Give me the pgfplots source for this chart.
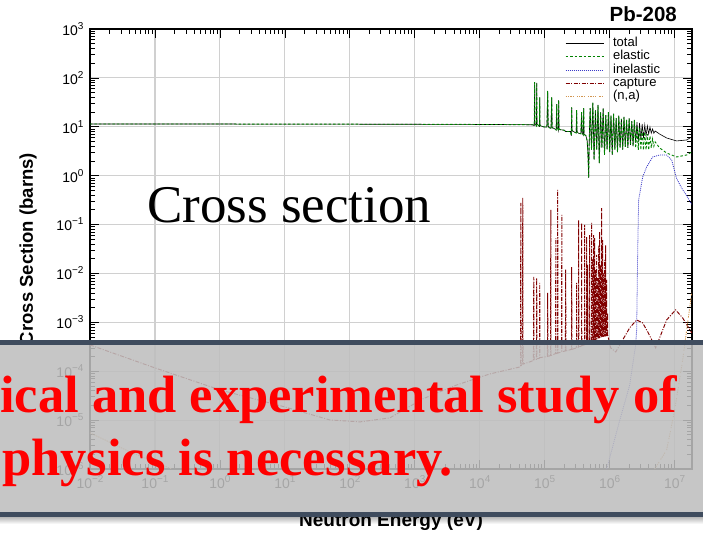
\documentclass[border=0pt]{standalone}
\usepackage{fontspec}
\setmainfont{Liberation Serif}
\setsansfont{Liberation Sans}
\newfontfamily\arialfont{Liberation Sans}
\usepackage{pgfplots}
\pgfplotsset{compat=1.18}
\usepackage{pgfplotstable}

\definecolor{elasticgreen}{RGB}{0,130,0}
\definecolor{inelblue}{RGB}{60,60,200}
\definecolor{capred}{RGB}{128,0,0}
\definecolor{natan}{RGB}{210,150,80}
\definecolor{bannergrey}{RGB}{190,190,190}
\definecolor{bannerdark}{RGB}{63,76,94}
\definecolor{gridgrey}{RGB}{208,208,208}

% power-of-ten tick label set in the text font
\newcommand\dec[1]{10\raisebox{6pt}{\fontsize{10}{10}\selectfont #1}}
\newcommand\logtick{\pgfmathtruncatemacro\tickexp{round(\tick/2.302585093)}%
  \dec{\ifnum\tickexp<0 −\number-\tickexp\else\tickexp\fi}}

% Pb-208: energy (eV), total and elastic cross sections (b)
\pgfplotstableread{
E        tot    ela
0.01     11.4   11.4
0.1      11.4   11.4
1        11.38  11.38
10       11.35  11.35
100      11.3   11.3
1000     11.25  11.25
1e4      11.15  11.15
3e4      11.1   11.1
6.5e4    11.0   11.0
6.9e4    10.6   10.6
7.0e4    82     82
7.06e4   11.8   11.8
7.3e4    10.9   10.9
7.45e4   10.5   10.5
7.53e4   79     79
7.6e4    11.5   11.5
8.0e4    10.6   10.6
8.3e4    10.2   10.2
8.38e4   40     40
8.45e4   10.6   10.6
9.5e4    10.0   10.0
1.08e5   9.8    9.8
1.11e5   54     54
1.13e5   10.5   10.5
1.17e5   9.6    9.6
1.25e5   9.3    9.3
1.28e5   40     40
1.30e5   9.6    9.6
1.40e5   9.2    9.2
1.50e5   8.6    8.6
1.53e5   29     29
1.55e5   9.3    9.3
1.60e5   9.0    9.0
1.62e5   8.4    8.4
1.64e5   35     35
1.66e5   9.0    9.0
1.75e5   8.7    8.7
2.00e5   8.5    8.5
2.10e5   8.0    8.0
2.50e5   8.0    8.0
2.57e5   6.5    6.5
2.60e5   25     25
2.63e5   8.4    8.4
2.75e5   8.0    8.0
3.05e5   7.5    7.5
3.10e5   22     22
3.14e5   7.9    7.9
3.30e5   7.4    7.4
3.60e5   7.2    7.2
3.70e5   20     20
3.75e5   7.6    7.6
3.90e5   6.9    6.9
3.98e5   24     24
4.03e5   7.0    7.0
4.30e5   6.6    6.6
4.50e5   5.2    5.2
4.62e5   3.0    3.0
4.75e5   0.9    0.9
4.82e5   3.5    3.5
4.90e5   10     10
5.01e5   24     24
5.25e5   3.4    3.4
5.50e5   31     31
5.75e5   2.1    2.1
6.03e5   22     22
6.31e5   3.4    3.4
6.61e5   28     28
6.92e5   1.8    1.8
7.24e5   20     20
7.59e5   3.7    3.7
7.94e5   24     24
8.32e5   2.65   2.65
8.71e5   17.4   17.4
9.12e5   3.4    3.4
9.55e5   20     20
1.0e6    3.05   3.05
1.047e6  17     17
1.096e6  2.65   2.65
1.148e6  18.5   18.5
1.202e6  3.4    3.4
1.259e6  15     15
1.318e6  3.05   3.05
1.38e6   17     17
1.445e6  3.7    3.7
1.514e6  14.5   14.5
1.585e6  3.4    3.4
1.66e6   16     16
1.738e6  3.9    3.9
1.82e6   13.8   13.8
1.905e6  3.7    3.7
1.995e6  15     15
2.089e6  4.25   4.25
2.188e6  13     13
2.291e6  4.0    4.0
2.399e6  13.8   13.8
2.512e6  4.67   3.69
2.63e6   12.5   10.4
2.754e6  4.9    3.36
2.884e6  12     9.45
3.02e6   5.4    3.36
3.162e6  11.4   8.6
3.311e6  5.9    3.36
3.467e6  10.9   7.8
3.631e6  6.5    3.36
3.802e6  10.4   7.1
3.981e6  7.1    3.36
4.169e6  9.9    6.5
4.365e6  7.4    3.69
4.571e6  9.0    5.6
4.786e6  7.4    4.0
5.012e6  8.2    4.9
5.87e6   7.1    3.69
7.53e6   5.9    2.91
1.07e7   5.13   2.41
1.53e7   5.37   2.65
1.83e7   6.2    3.05
}\xsTotEl

% inelastic (b)
\pgfplotstableread{
E        s
9.0e5    1.0e-6
1.43e6   1.0e-5
2.03e6   5.2e-5
2.51e6   3.45e-4
2.6e6    7.0e-4
2.7e6    0.030
2.79e6   0.318
3.22e6   0.94
3.71e6   1.51
4.59e6   2.41
5.87e6   2.65
7.53e6   2.65
9.0e6    2.09
1.07e7   0.88
1.28e7   0.56
1.53e7   0.39
1.83e7   0.26
}\xsInel

% radiative capture (b)
\pgfplotstableread{
E        s
0.01     3.45e-4
0.1      1.17e-4
1        4.15e-5
10       1.86e-5
49       1.01e-5
143      9.2e-6
412      1.11e-5
1328     2.72e-5
4430     5.25e-5
1.43e4   8.8e-5
4.12e4   1.22e-4
4.25e4   1.25e-4
4.28e4   0.277
4.33e4   1.3e-4
4.55e4   1.35e-4
4.59e4   0.35
4.64e4   1.4e-4
6.7e4    1.65e-4
6.78e4   8.5e-3
6.85e4   1.7e-4
7.45e4   1.75e-4
7.53e4   8.1e-3
7.6e4    1.8e-4
8.3e4    1.85e-4
8.38e4   6.4e-3
8.45e4   1.9e-4
1.10e5   2.0e-4
1.11e5   4.0e-3
1.12e5   2.0e-4
1.23e5   2.1e-4
1.24e5   0.199
1.25e5   2.1e-4
1.47e5   2.3e-4
1.48e5   0.053
1.49e5   2.3e-4
1.58e5   2.35e-4
1.585e5  0.51
1.595e5  2.35e-4
1.82e5   2.5e-4
1.83e5   0.157
1.84e5   2.5e-4
2.08e5   2.6e-4
2.10e5   0.012
2.12e5   2.6e-4
2.58e5   2.8e-4
2.60e5   0.0136
2.62e5   2.8e-4
3.08e5   3.0e-4
3.10e5   6.4e-3
3.12e5   3.0e-4
3.31e5   3.1e-4
3.33e5   0.124
3.35e5   3.1e-4
3.68e5   3.3e-4
3.70e5   0.108
3.72e5   3.3e-4
4.10e5   3.5e-4
4.12e5   0.098
4.14e5   3.5e-4
4.41e5   3.7e-4
4.43e5   0.056
4.45e5   3.7e-4
4.57e5   3.8e-4
4.59e5   0.0149
4.61e5   3.8e-4
4.90e5   4.0e-4
4.92e5   0.061
4.94e5   4.0e-4
5.26e5   4.1e-4
5.28e5   0.108
5.30e5   4.1e-4
5.50e5   4.2e-4
5.52e5   0.02
5.54e5   4.2e-4
5.65e5   4.3e-4
5.67e5   0.061
5.69e5   4.3e-4
5.85e5   4.4e-4
5.87e5   0.053
5.89e5   4.4e-4
6.10e5   4.5e-4
6.12e5   0.012
6.14e5   4.5e-4
6.29e5   4.6e-4
6.31e5   0.0239
6.33e5   4.6e-4
6.55e5   4.7e-4
6.57e5   0.008
6.59e5   4.7e-4
6.76e5   4.8e-4
6.78e5   0.038
6.80e5   4.8e-4
7.00e5   4.9e-4
7.02e5   0.071
7.04e5   4.9e-4
7.25e5   5.0e-4
7.27e5   0.015
7.29e5   5.0e-4
7.51e5   5.1e-4
7.53e5   0.218
7.55e5   5.1e-4
7.78e5   5.2e-4
7.80e5   0.048
7.82e5   5.2e-4
8.10e5   5.2e-4
8.12e5   0.01
8.14e5   5.2e-4
8.36e5   5.3e-4
8.38e5   0.0189
8.40e5   5.3e-4
8.65e5   5.3e-4
8.67e5   0.038
8.69e5   5.3e-4
8.97e5   5.4e-4
8.99e5   7.4e-3
9.01e5   5.4e-4
9.29e5   5.5e-4
9.31e5   1.56e-3
9.33e5   5.5e-4
1.036e6  3.0e-4
1.24e6   2.48e-4
1.585e6  4.37e-4
2.03e6   7.7e-4
2.6e6    1.12e-3
3.22e6   9.7e-4
3.85e6   6.4e-4
4.59e6   4.0e-4
5.1e6    3.0e-4
5.87e6   4.8e-4
7.53e6   1.12e-3
1.035e7  1.8e-3
1.33e7   1.23e-3
1.83e7   6.1e-4
}\xsCapt

% (n,alpha) (b)
\pgfplotstableread{
E        s
4.92e6   1.0e-6
7.53e6   2.45e-6
1e7      1.6e-5
1.33e7   1.7e-4
1.48e7   5.0e-4
1.83e7   4.0e-3
}\xsNA

\pgfplotstableread{
E        s
0.01     5.5e-6
0.0412   2.24e-6
0.153    1.1e-6
0.183    1.0e-6
}\xsNAlow

\begin{document}
\begin{tikzpicture}
\path[use as bounding box] (0pt,0pt) rectangle (703pt,533pt);
% soft shadow under the banner
\shade[top color=black!30, bottom color=white] (0pt,9pt) rectangle (703pt,16.5pt);
\begin{axis}[
  at={(90pt,64pt)}, anchor=south west,
  scale only axis, width=602pt, height=440pt,
  xmode=log, ymode=log,
  xmin=1e-2, xmax=1.85e7, ymin=1e-6, ymax=1e3,
  axis line style={line width=1.1pt},
  every tick/.style={black, line width=0.7pt},
  major tick length=9pt, minor tick length=5pt,
  grid=major,
  major grid style={gridgrey, line width=1.1pt},
  xticklabel={\logtick}, yticklabel={\logtick},
  ticklabel style={font=\arialfont\fontsize{14}{16}\selectfont},
  yticklabel style={xshift=-3pt},
  xticklabel style={yshift=-3pt},
  xlabel={Neutron Energy (eV)},
  ylabel={Cross Section (barns)},
  xlabel style={font=\arialfont\bfseries\fontsize{19}{21}\selectfont,
    at={(axis description cs:0.5,-0.13)}, anchor=base},
  ylabel style={font=\arialfont\bfseries\fontsize{18.5}{21}\selectfont,
    at={(axis description cs:-0.103,0.5)}, anchor=center},
  legend image code/.code={\draw[#1] (0pt,0pt) -- (38pt,0pt);},
  legend cell align=left,
  legend style={draw=none, fill=none, inner sep=0pt,
    at={(axis description cs:0.789,0.982)}, anchor=north west,
    font=\arialfont\fontsize{13}{14}\selectfont,
    nodes={inner sep=0pt, text height=9.5pt, text depth=3pt},
    row sep=0.8pt,
    /tikz/every odd column/.append style={column sep=9pt}},
]
\addplot[black, line width=0.6pt] table[x=E, y=tot] {\xsTotEl};
\addlegendentry{total}
\addplot[elasticgreen, line width=0.9pt, dash pattern=on 2.5pt off 2pt] table[x=E, y=ela] {\xsTotEl};
\addlegendentry{elastic}
\addplot[inelblue, line width=0.8pt, dash pattern=on 1pt off 1pt] table[x=E, y=s] {\xsInel};
\addlegendentry{inelastic}
\addplot[capred, line width=0.95pt, dash pattern=on 4pt off 1.5pt on 1pt off 1.5pt] table[x=E, y=s] {\xsCapt};
\addlegendentry{capture}
\addplot[natan, line width=0.9pt, dash pattern=on 1.3pt off 1pt on 1.3pt off 1pt on 1.3pt off 1pt on 1.3pt off 3pt] table[x=E, y=s] {\xsNA};
\addlegendentry{(n,a)}
\addplot[natan, line width=0.9pt, dash pattern=on 1.3pt off 1pt, forget plot] table[x=E, y=s] {\xsNAlow};
\end{axis}

\node[anchor=base east, inner sep=0pt, font=\arialfont\bfseries\fontsize{20.5}{22}\selectfont] at (677pt,511pt) {Pb-208};
\node[anchor=base west, inner sep=0pt, font=\fontsize{53}{60}\selectfont] at (147pt,310pt) {Cross section};

% overlay banner
\fill[bannergrey, fill opacity=0.87] (0pt,16.3pt) rectangle (703pt,193pt);
\fill[bannerdark] (0pt,188pt) rectangle (703pt,193pt);
\fill[bannerdark] (0pt,16.3pt) rectangle (703pt,21.3pt);
\node[anchor=base west, inner sep=0pt, text=red, font=\bfseries\fontsize{52.5}{60}\selectfont] at (0pt,121pt) {ical and experimental study of};
\node[anchor=base west, inner sep=0pt, text=red, font=\bfseries\fontsize{52.5}{60}\selectfont] at (2pt,58pt) {physics is necessary.};
\end{tikzpicture}
\end{document}
